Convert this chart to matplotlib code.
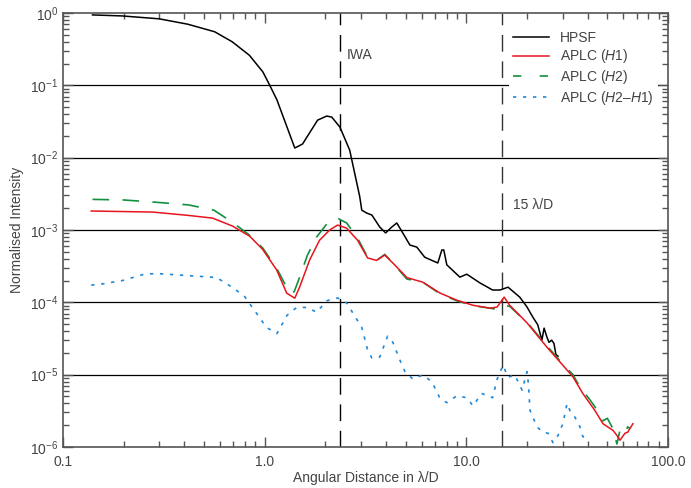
import numpy as np
import matplotlib
matplotlib.use('Agg')
import matplotlib.pyplot as plt
from matplotlib.lines import Line2D
from matplotlib.ticker import LogLocator, FixedLocator, FixedFormatter, NullFormatter

plt.rcParams['font.family'] = ['Liberation Sans', 'DejaVu Sans']
plt.rcParams['mathtext.fontset'] = 'custom'
plt.rcParams['mathtext.rm'] = 'Liberation Sans'
plt.rcParams['mathtext.it'] = 'Liberation Sans:italic'
plt.rcParams['mathtext.default'] = 'regular'

# HPSF
hpsf_x = [0.14, 0.197, 0.30, 0.415, 0.565, 0.69, 0.84, 0.98, 1.06, 1.15, 1.41, 1.54, 1.83, 2.03, 2.15, 2.36,
          2.64, 2.96, 3.03, 3.21, 3.40, 3.72, 3.98, 4.27, 4.52, 4.84, 5.25, 5.68, 6.22, 7.22, 7.56, 7.73, 8.00,
          9.29, 10.05, 11.7, 13.5, 14.7, 16.1, 18.4, 20.0, 21.4, 22.6, 23.7, 24.3, 25.1, 25.7, 26.5, 27.2,
          27.8, 28.5]
hpsf_y = [0.94, 0.91, 0.83, 0.70, 0.55, 0.40, 0.26, 0.153, 0.10, 0.063, 0.0136, 0.0154, 0.033, 0.0376, 0.0364,
          0.0265, 0.0127, 0.0029, 0.00188, 0.00171, 0.00161, 0.0011, 0.00091, 0.0011, 0.00125, 0.00091, 0.00062,
          0.00058, 0.00042, 0.00035, 0.00053, 0.00053, 0.00033, 0.000223, 0.000245, 0.000185, 0.000148,
          0.000148, 0.000162, 0.000118, 8.6e-5, 6.2e-5, 4.9e-5, 3.0e-5, 4.4e-5, 3.3e-5, 2.8e-5, 3.0e-5,
          2.7e-5, 1.9e-5, 1.8e-5]

# APLC H1
h1_x = [0.138, 0.278, 0.41, 0.552, 0.694, 0.843, 0.977, 1.147, 1.286, 1.41, 1.49, 1.67, 1.87, 2.10, 2.30, 2.55,
        2.89, 3.24, 3.59, 3.94, 4.32, 5.07, 6.08, 7.38, 8.97, 10.8, 13.1, 14.2, 15.4, 16.4, 20.0, 25.1, 30.1,
        33.8, 35.3, 37.8, 41.0, 43.4, 47.6, 53.3, 55.8, 57.8, 61.2, 63.1, 67.0]
h1_y = [0.00183, 0.00177, 0.0016, 0.00146, 0.00113, 0.00082, 0.00054, 0.00028, 0.000134, 0.000114, 0.000162,
        0.000384, 0.00072, 0.0010, 0.00117, 0.00106, 0.00072, 0.00041, 0.00038, 0.00045, 0.00035, 0.00022,
        0.00019, 0.000135, 0.000107, 9.1e-5, 8.3e-5, 8.6e-5, 1.18e-4, 9.1e-5, 5.2e-5, 2.4e-5, 1.35e-5, 9.3e-6,
        7.6e-6, 5.5e-6, 4.0e-6, 3.2e-6, 2.1e-6, 1.7e-6, 1.45e-6, 1.24e-6, 1.55e-6, 1.6e-6, 2.1e-6]

# APLC H2
h2_x = [0.14, 0.2, 0.3, 0.42, 0.56, 0.70, 0.84, 0.98, 1.15, 1.33, 1.40, 1.47, 1.63, 1.81, 2.05, 2.30, 2.55, 2.89,
        3.24, 3.59, 3.94, 4.32, 5.07, 6.08, 7.38, 8.97, 10.8, 13.1, 14.2, 15.4, 16.4, 20.0, 25.1, 30.1, 33.8,
        35.3, 37.8, 41.0, 43.4, 47.6, 50.0, 53.3, 55.8, 57.8, 61.2, 63.1, 65.0]
h2_y = [0.00265, 0.0026, 0.0024, 0.00222, 0.00188, 0.00125, 0.00085, 0.00056, 0.00029, 0.000135, 0.00014, 0.0002,
        0.00045, 0.0008, 0.00125, 0.00145, 0.00125, 0.00077, 0.00042, 0.00038, 0.00046, 0.00035, 0.00021, 0.00019,
        0.000132, 0.000105, 9.0e-5, 8.3e-5, 8.0e-5, 9.1e-5, 8.8e-5, 5.3e-5, 2.5e-5, 1.4e-5, 1.0e-5, 8.0e-6,
        6.0e-6, 4.5e-6, 3.6e-6, 2.3e-6, 2.5e-6, 1.8e-6, 1.1e-6, 1.7e-6, 1.5e-6, 1.9e-6, 1.8e-6]

# APLC H2-H1
diff_x = [0.138, 0.157, 0.197, 0.253, 0.29, 0.365, 0.46, 0.578, 0.694, 0.796, 0.913, 1.02, 1.15, 1.29, 1.44, 1.62,
          1.81, 2.03, 2.30, 2.55, 2.73, 3.03, 3.24, 3.40, 3.72, 4.07, 4.32, 4.68, 4.96, 5.43, 6.08, 6.74, 7.38,
          8.0, 8.97, 10.05, 10.8, 11.9, 12.8, 13.5, 14.2, 15.2, 16.1, 17.4, 18.9, 20.0, 20.3, 20.7, 22.4, 24.0,
          25.4, 26.9, 28.5, 30.1, 31.6, 32.6, 34.5, 36.6, 37.8, 39.6]
diff_y = [1.73e-4, 1.8e-4, 2.0e-4, 2.45e-4, 2.5e-4, 2.4e-4, 2.3e-4, 2.2e-4, 1.6e-4, 1.2e-4, 7.0e-5, 4.5e-5,
          3.7e-5, 6.6e-5, 8.5e-5, 8.5e-5, 7.3e-5, 1.05e-4, 1.15e-4, 9.8e-5, 7.2e-5, 4.5e-5, 2.2e-5, 1.7e-5,
          1.75e-5, 3.4e-5, 2.8e-5, 1.6e-5, 1.1e-5, 8.7e-6, 9.9e-6, 8.0e-6, 4.8e-6, 4.1e-6, 5.1e-6, 4.8e-6,
          3.7e-6, 5.5e-6, 5.1e-6, 4.8e-6, 8.6e-6, 1.35e-5, 9.2e-6, 9.9e-6, 6.1e-6, 1.1e-5, 7.6e-6, 3.2e-6,
          1.9e-6, 1.6e-6, 1.55e-6, 1.15e-6, 1.45e-6, 2.1e-6, 4.0e-6, 3.2e-6, 2.6e-6, 1.9e-6, 1.4e-6, 1.25e-6]

iwa = 2.35
owa = 15.0
xticks = [0.1, 1.0, 10.0, 100.0]
xlabels = ['0.1', '1.0', '10.0', '100.0']

txtc = '#444444'
fig = plt.figure(figsize=(6.91, 4.88), dpi=100)
ax = fig.add_axes([0.0912, 0.084, 0.8755, 0.8894])

for d in range(-5, 0):
    ax.axhline(10.0 ** d, color='black', lw=0.9, zorder=1)
ax.axvline(iwa, color='black', lw=1.0, dashes=(12, 7), zorder=1)
ax.axvline(owa, color='#333333', lw=1.0, dashes=(12, 7), zorder=1)

ax.plot(hpsf_x, hpsf_y, color='black', lw=1.1, zorder=3)
ax.plot(h2_x, h2_y, color='#109040', lw=1.2, dashes=(10, 8), zorder=3)
ax.plot(h1_x, h1_y, color='#e8141c', lw=1.1, zorder=4)
ax.plot(diff_x, diff_y, color='#1f88d8', lw=1.2, dashes=(2, 4), zorder=3)

handles = [Line2D([], [], color='black', lw=1.1),
           Line2D([], [], color='#e8141c', lw=1.1),
           Line2D([], [], color='#109040', lw=1.2, dashes=(5, 11)),
           Line2D([], [], color='#1f88d8', lw=1.2, dashes=(2, 4))]
labels = ['HPSF', 'APLC ($\\mathit{H1}$)', 'APLC ($\\mathit{H2}$)', 'APLC ($\\mathit{H2}$–$\\mathit{H1}$)']
leg = ax.legend(handles, labels, loc='upper right', bbox_to_anchor=(0.995, 0.985), frameon=True,
                fontsize=10, handlelength=2.6, handletextpad=0.8, labelspacing=0.2, borderpad=0.3)
leg.get_frame().set_edgecolor('none')
leg.get_frame().set_facecolor('white')
leg.get_frame().set_alpha(1)
leg.set_zorder(5)
for t in leg.get_texts():
    t.set_color(txtc)

ax.text(2.55, 0.26, 'IWA', fontsize=10, color=txtc, va='center')
ax.text(17.0, 0.0022, '15 λ/D', fontsize=10, color=txtc, va='center')

ax.set_xscale('log')
ax.set_yscale('log')
ax.set_xlim(0.1, 100.0)
ax.set_ylim(1e-6, 1.0)
ax.xaxis.set_major_locator(FixedLocator(xticks))
ax.xaxis.set_major_formatter(FixedFormatter(xlabels))
ax.xaxis.set_minor_locator(LogLocator(base=10, subs=np.arange(2, 10), numticks=20))
ax.xaxis.set_minor_formatter(NullFormatter())
ax.yaxis.set_major_locator(LogLocator(base=10, numticks=10))
ax.yaxis.set_minor_locator(LogLocator(base=10, subs=np.arange(2, 10), numticks=20))
ax.yaxis.set_minor_formatter(NullFormatter())

ax.tick_params(which='both', direction='in', top=True, right=True, colors='#555555', labelcolor=txtc,
               labelsize=10, width=1.0)
ax.tick_params(which='major', length=7)
ax.tick_params(which='minor', length=4)
ax.tick_params(axis='x', which='major', pad=6)
for s in ax.spines.values():
    s.set_color('#555555')
    s.set_linewidth(1.2)

ax.set_xlabel('Angular Distance in λ/D', fontsize=10, color=txtc, labelpad=1)
ax.set_ylabel('Normalised Intensity', fontsize=10, color=txtc, labelpad=4)

fig.savefig('out.png', dpi=100)
